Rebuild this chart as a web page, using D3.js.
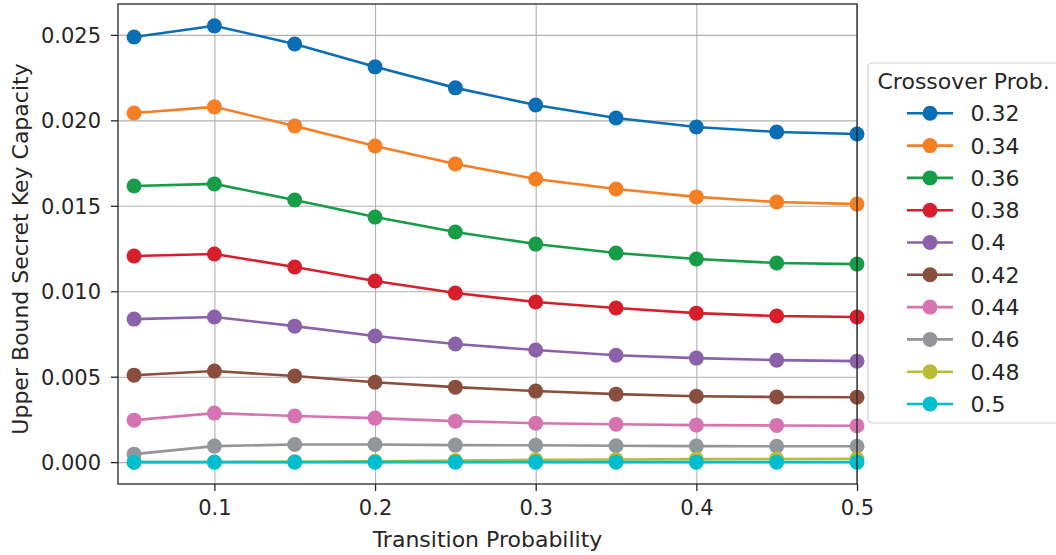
<!DOCTYPE html>
<html>
<head>
<meta charset="utf-8">
<script src="https://cdn.jsdelivr.net/npm/d3@7"></script>
<style>
  body { margin: 0; background: #fff; }
  svg, svg text { font-family: "DejaVu Sans", sans-serif; }
  .grid line { stroke: #b0b0b0; stroke-width: 1.1; }
  .grid path { display: none; }
  .axis text { font-size: 21px; fill: #262626; font-family: "DejaVu Sans", sans-serif; }
  .axis line { stroke: #262626; stroke-width: 1.3; }
  .axis path { display: none; }
</style>
</head>
<body>
<svg id="chart" width="1056" height="555"></svg>
<script>
// transition probability on the x axis
const transition = [0.05, 0.1, 0.15, 0.2, 0.25, 0.3, 0.35, 0.4, 0.45, 0.5];

// crossover probabilities (one line each)
const crossover = ["0.32", "0.34", "0.36", "0.38", "0.4", "0.42", "0.44", "0.46", "0.48", "0.5"];

const cap032 = [0.02488, 0.02553, 0.02447, 0.02313, 0.0219, 0.0209, 0.02014, 0.01961, 0.01932, 0.0192];
const cap034 = [0.02043, 0.02079, 0.01967, 0.0185, 0.01745, 0.01657, 0.01598, 0.01552, 0.01522, 0.0151];
const cap036 = [0.01616, 0.01628, 0.01534, 0.01434, 0.01347, 0.01276, 0.01224, 0.01189, 0.01165, 0.01159];
const cap038 = [0.01206, 0.01218, 0.01142, 0.0106, 0.0099, 0.00937, 0.00902, 0.00872, 0.00855, 0.00849];
const cap040 = [0.00837, 0.00849, 0.00796, 0.00738, 0.00691, 0.00656, 0.00626, 0.00609, 0.00597, 0.00591];
const cap042 = [0.00509, 0.00533, 0.00504, 0.00468, 0.00439, 0.00416, 0.00398, 0.00386, 0.00381, 0.0038];
const cap044 = [0.00246, 0.00287, 0.0027, 0.00258, 0.0024, 0.00228, 0.00222, 0.00217, 0.00215, 0.00213];
const cap046 = [0.00047, 0.00094, 0.00103, 0.00103, 0.001, 0.00099, 0.00096, 0.00094, 0.00093, 0.00093];
const cap048 = [0.0, 0.00001, 0.00002, 0.00005, 0.0001, 0.00014, 0.00016, 0.00018, 0.00019, 0.0002];
const cap050 = [0, 0, 0, 0, 0, 0, 0, 0, 0, 0];

const xTicks = [0.1, 0.2, 0.3, 0.4, 0.5];
const yTicks = [0, 0.005, 0.01, 0.015, 0.02, 0.025];

const series = [cap032, cap034, cap036, cap038, cap040, cap042, cap044, cap046, cap048, cap050];
// tab10-like palette, as it appears in the picture
const colors = ["#0a6eb4", "#f47f24", "#179c48", "#d71f2c", "#8b61aa",
                "#8a4e3e", "#d673b1", "#939598", "#bbbc35", "#00bdcf"];

const svg = d3.select("#chart");
const margin = { left: 118, top: 4, right: 199, bottom: 71 };
const width = 1056 - margin.left - margin.right;
const height = 555 - margin.top - margin.bottom;

const g = svg.append("g").attr("transform", `translate(${margin.left},${margin.top})`);

const x = d3.scaleLinear().domain([0.04, 0.5]).range([0, width]);
const y = d3.scaleLinear().domain([-0.001277, 0.026807]).range([height, 0]);

// grid
g.append("g")
  .attr("class", "grid")
  .attr("transform", `translate(0,${height})`)
  .call(d3.axisBottom(x).tickValues(xTicks).tickSize(-height).tickFormat(""));

g.append("g")
  .attr("class", "grid")
  .call(d3.axisLeft(y).tickValues(yTicks).tickSize(-width).tickFormat(""));

// axes
g.append("g")
  .attr("class", "axis")
  .attr("transform", `translate(0,${height})`)
  .call(d3.axisBottom(x).tickValues(xTicks).tickSize(7).tickPadding(9.5).tickFormat(d3.format("")));

g.append("g")
  .attr("class", "axis")
  .call(d3.axisLeft(y).tickValues(yTicks).tickSize(7).tickPadding(10).tickFormat(d3.format(".3f")))
  .selectAll("text").attr("dy", "0.36em");

// lines and markers
const line = d3.line()
  .x((d, i) => x(transition[i]))
  .y(d => y(d));

const plot = g.append("g");

series.forEach((vals, k) => {
  const sg = plot.append("g");
  sg.append("path")
    .datum(vals)
    .attr("fill", "none")
    .attr("stroke", colors[k])
    .attr("stroke-width", 2.6)
    .attr("d", line);
  sg.selectAll("circle")
    .data(vals)
    .enter().append("circle")
    .attr("cx", (d, i) => x(transition[i]))
    .attr("cy", d => y(d))
    .attr("r", 7.5)
    .attr("fill", colors[k]);
});

// spines
g.append("rect")
  .attr("width", width)
  .attr("height", height)
  .attr("fill", "none")
  .attr("stroke", "#262626")
  .attr("stroke-width", 1.3);

// axis labels
svg.append("text")
  .attr("x", margin.left + width / 2)
  .attr("y", 547)
  .attr("text-anchor", "middle")
  .attr("font-size", 22)
  .attr("fill", "#262626")
  .text("Transition Probability");

svg.append("text")
  .attr("transform", "translate(28,249) rotate(-90)")
  .attr("text-anchor", "middle")
  .attr("font-size", 22)
  .attr("fill", "#262626")
  .text("Upper Bound Secret Key Capacity");

// legend
const legend = svg.append("g").attr("transform", "translate(868,63)");
legend.append("rect")
  .attr("width", 200)
  .attr("height", 360)
  .attr("rx", 4)
  .attr("fill", "#fff")
  .attr("fill-opacity", 0.85)
  .attr("stroke", "#d0d0d0")
  .attr("stroke-width", 1.2);

legend.append("text")
  .attr("x", 9.5)
  .attr("y", 25.5)
  .attr("font-size", 22)
  .attr("fill", "#262626")
  .text("Crossover Prob.");

crossover.forEach((label, k) => {
  const row = legend.append("g").attr("transform", `translate(0,${50.3 + k * 32.3})`);
  row.append("line")
    .attr("x1", 39).attr("x2", 85)
    .attr("stroke", colors[k])
    .attr("stroke-width", 2.6);
  row.append("circle")
    .attr("cx", 62).attr("r", 7.5)
    .attr("fill", colors[k]);
  row.append("text")
    .attr("x", 102.5)
    .attr("dy", "0.36em")
    .attr("font-size", 22)
    .attr("fill", "#262626")
    .text(label);
});
</script>
</body>
</html>
